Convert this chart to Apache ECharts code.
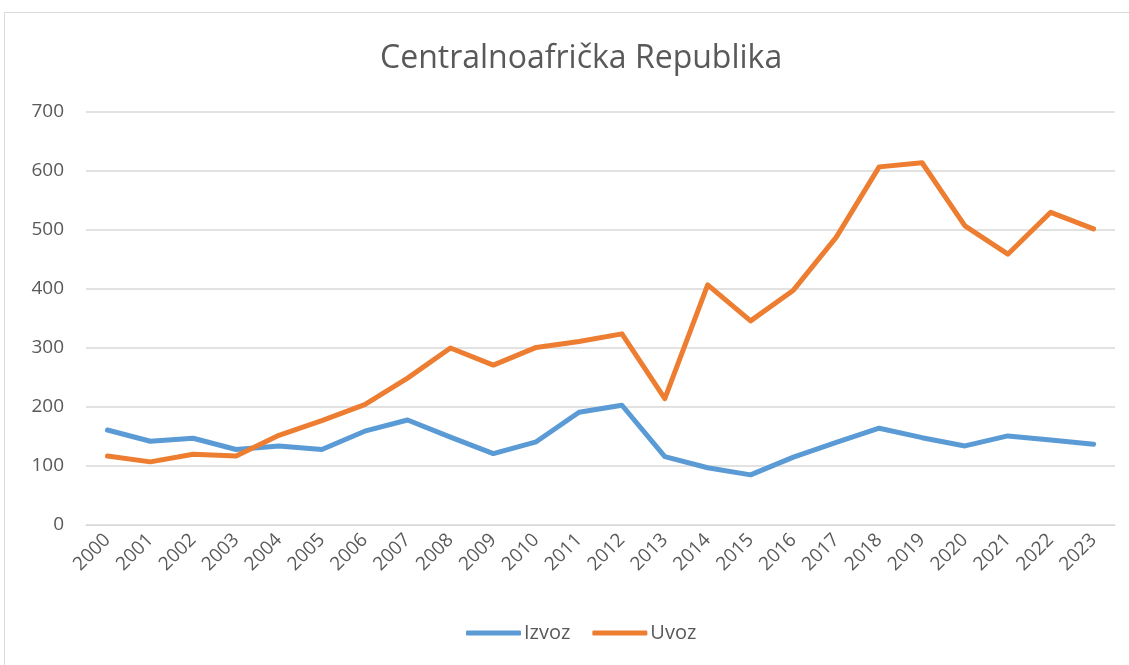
<!DOCTYPE html>
<html>
<head>
<meta charset="utf-8">
<script src="https://cdn.jsdelivr.net/npm/echarts@6/dist/echarts.min.js"></script>
<style>
  html, body { margin: 0; padding: 0; background: #fff; }
  #chart { width: 1129px; height: 665px; }
</style>
</head>
<body>
<div id="chart"></div>
<script>
// godine i vrijednosti (očitano sa slike)
const years = ['2000','2001','2002','2003','2004','2005','2006','2007','2008','2009','2010','2011',
               '2012','2013','2014','2015','2016','2017','2018','2019','2020','2021','2022','2023'];
const izvoz = [161, 142, 147, 128, 134, 128, 159, 178, 149, 121, 141, 191,
               203, 116, 97, 85, 115, 140, 164, 148, 134, 151, 144, 137];
const uvoz = [117, 107, 120, 117, 152, 177, 204, 249, 300, 271, 301, 311,
              324, 214, 407, 346, 398, 488, 607, 614, 507, 459, 530, 502];
const yTicks = [0, 100, 200, 300, 400, 500, 600, 700];

const txt = '#595959';
const font = 'Open Sans';

let myChart = echarts.init(document.getElementById('chart'));
myChart.setOption({
    backgroundColor: '#fff',
    animation: false,
    graphic: [{
        type: 'rect',
        shape: { x: 4.5, y: 12.5, width: 1200, height: 700 },
        style: { fill: 'none', stroke: '#d9d9d9', lineWidth: 1 },
        silent: true
    }],
    title: {
        text: 'Centralnoafrička Republika',
        left: 375,
        top: 38,
        textStyle: { color: txt, fontSize: 32, fontWeight: 'normal', fontFamily: font }
    },
    legend: {
        bottom: 17,
        left: 461,
        itemWidth: 55,
        itemHeight: 5,
        itemGap: 22,
        icon: 'roundRect',
        textStyle: { color: txt, fontSize: 20, fontFamily: font, padding: [0, 0, 0, -2] },
        data: ['Izvoz', 'Uvoz']
    },
    grid: { left: 86, right: 14, top: 112, bottom: 140 },
    xAxis: {
        type: 'category',
        data: years,
        boundaryGap: true,
        axisLine: { lineStyle: { color: '#d9d9d9', width: 1 } },
        axisTick: { show: false },
        axisLabel: { rotate: 45, color: txt, fontSize: 19, fontFamily: font, margin: 12, interval: 0 }
    },
    yAxis: {
        type: 'value',
        min: yTicks[0],
        max: yTicks[yTicks.length - 1],
        interval: 100,
        axisLine: { show: false },
        axisTick: { show: false },
        axisLabel: { color: txt, fontSize: 19, fontFamily: font, margin: 22 },
        splitLine: { lineStyle: { color: '#d9d9d9', width: 1.5 } }
    },
    series: [
        {
            name: 'Izvoz',
            type: 'line',
            data: izvoz,
            symbol: 'none',
            color: '#5B9BD5',
            lineStyle: { width: 5, cap: 'round', join: 'round' }
        },
        {
            name: 'Uvoz',
            type: 'line',
            data: uvoz,
            symbol: 'none',
            color: '#ED7D31',
            lineStyle: { width: 5, cap: 'round', join: 'round' }
        }
    ]
});
window.addEventListener('resize', () => {
    myChart.resize();
});
</script>
</body>
</html>
